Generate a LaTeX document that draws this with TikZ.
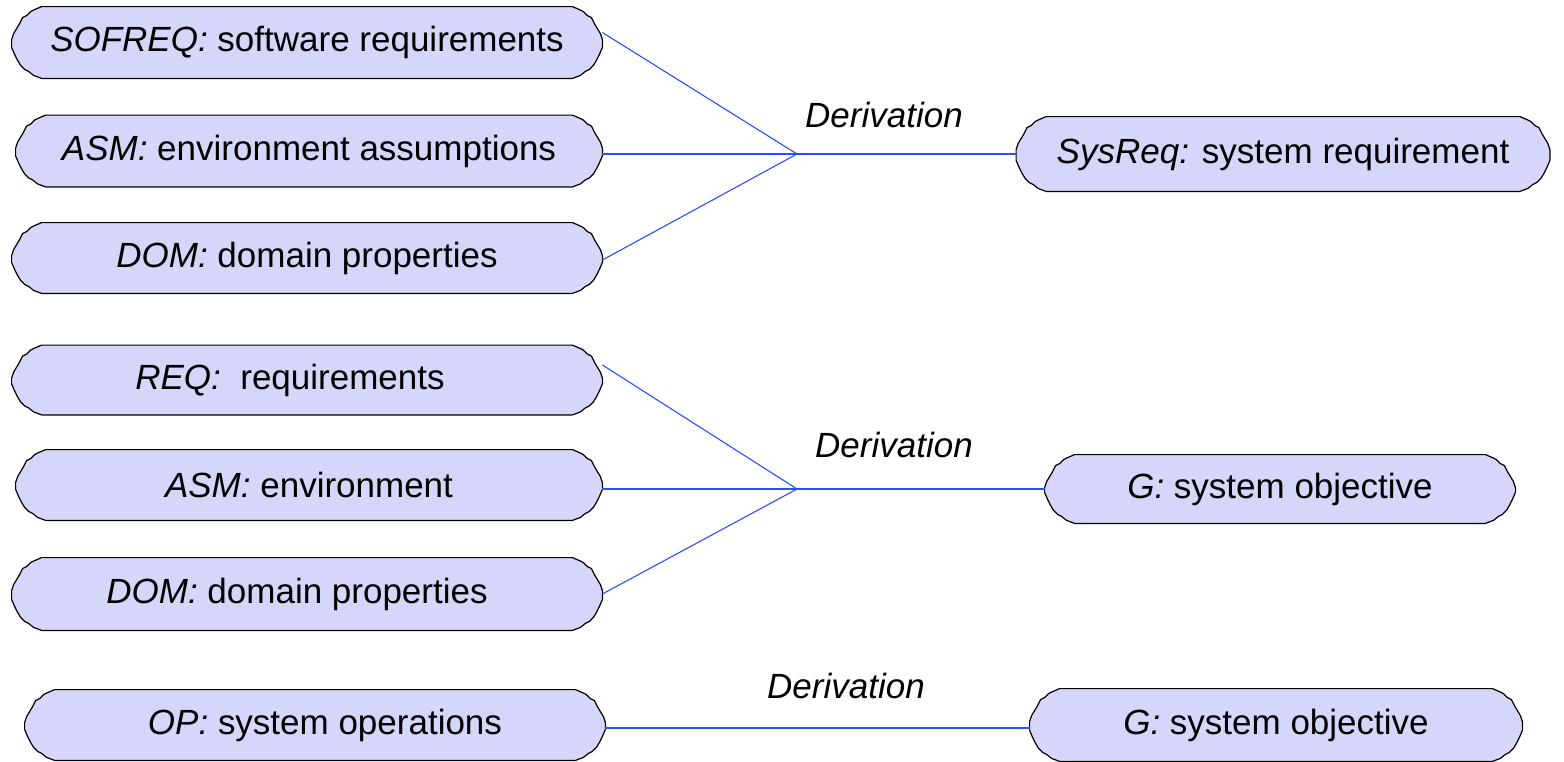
\documentclass[tikz,border=0pt]{standalone}
\usepackage{fontspec}
\setmainfont{Liberation Sans}
\usetikzlibrary{backgrounds,calc}
\definecolor{boxfill}{RGB}{214,214,250}
\definecolor{linkblue}{RGB}{40,80,255}
\tikzset{
  capbox/.style={inner sep=0pt, font=\fontsize{17.5}{21}\selectfont},
  derivlabel/.style={inner sep=0pt, font=\fontsize{17.5}{21}\selectfont\itshape},
  link/.style={draw=linkblue, line width=0.55pt},
  outline/.style={fill=boxfill, draw=black, line width=0.6pt, line join=round},
}
% Faceted, slightly irregular end caps drawn behind a named box node
\newcommand\capoutline[1]{%
  \begin{pgfonlayer}{background}
  \path[outline]
    ([shift={(30,0)}]#1.north west) -- ([shift={(-30,0)}]#1.north east)
    -- ([shift={(-23,3)}]#1.north east) -- ([shift={(-19,5)}]#1.north east)
    -- ([shift={(-15,9)}]#1.north east) -- ([shift={(-11,11)}]#1.north east)
    -- ([shift={(-8,17)}]#1.north east) -- ([shift={(-5,22)}]#1.north east)
    -- ([shift={(-2,27)}]#1.north east) -- ([shift={(0,33)}]#1.north east)
    -- ([shift={(0,-31)}]#1.south east) -- ([shift={(-3,-24)}]#1.south east)
    -- ([shift={(-6,-18)}]#1.south east) -- ([shift={(-9,-13)}]#1.south east)
    -- ([shift={(-13,-9)}]#1.south east) -- ([shift={(-17,-7)}]#1.south east)
    -- ([shift={(-22,-3)}]#1.south east) -- ([shift={(-30,0)}]#1.south east)
    -- ([shift={(30,0)}]#1.south west) -- ([shift={(22,-3)}]#1.south west)
    -- ([shift={(17,-7)}]#1.south west) -- ([shift={(13,-9)}]#1.south west)
    -- ([shift={(9,-13)}]#1.south west) -- ([shift={(6,-18)}]#1.south west)
    -- ([shift={(3,-24)}]#1.south west) -- ([shift={(0,-31)}]#1.south west)
    -- ([shift={(0,33)}]#1.north west) -- ([shift={(2,27)}]#1.north west)
    -- ([shift={(5,22)}]#1.north west) -- ([shift={(8,17)}]#1.north west)
    -- ([shift={(11,11)}]#1.north west) -- ([shift={(15,9)}]#1.north west)
    -- ([shift={(19,5)}]#1.north west) -- ([shift={(23,3)}]#1.north west)
    -- cycle;
  \end{pgfonlayer}}
\begin{document}
\begin{tikzpicture}[x=0.5pt, y=-0.5pt]
  \useasboundingbox (0,0) rectangle (1564,761);

  % first derivation
  \node[capbox, minimum width=295pt, minimum height=35.5pt] (sofreq) at (307,42.5)
    {\textit{SOFREQ:} software requirements};
  \node[capbox, minimum width=293pt, minimum height=35.5pt] (asmA) at (309,151)
    {\textit{ASM:} environment assumptions};
  \node[capbox, minimum width=295pt, minimum height=35pt] (domA) at (307,258)
    {\textit{DOM:} domain properties};
  \node[capbox, minimum width=266.5pt, minimum height=37pt] (sysreq) at (1283,154)
    {\textit{SysReq:} system requirement};
  \coordinate (jA) at (797,154);
  \node[derivlabel] (dA) at (884,115) {Derivation};

  % second derivation
  \node[capbox, minimum width=295pt, minimum height=34.5pt] (req) at (307,380)
    {\textit{REQ:}\ \ requirements\hspace*{17pt}};
  \node[capbox, minimum width=293pt, minimum height=35pt] (asmB) at (309,485)
    {\textit{ASM:} environment};
  \node[capbox, minimum width=295pt, minimum height=36pt] (domB) at (307,594)
    {\textit{DOM:} domain properties\hspace*{10pt}};
  \node[capbox, minimum width=235pt, minimum height=34pt] (goalA) at (1280,489)
    {\textit{G:} system objective};
  \coordinate (jB) at (797,489);
  \node[derivlabel] (dB) at (894,445) {Derivation};

  % third derivation
  \node[capbox, minimum width=290pt, minimum height=35pt] (op) at (315,725)
    {\hspace*{10pt}\textit{OP:} system operations};
  \node[capbox, minimum width=246pt, minimum height=36pt] (goalB) at (1276,725)
    {\textit{G:} system objective};
  \node[derivlabel] (dC) at (846,686) {Derivation};

  \foreach \b in {sofreq,asmA,domA,sysreq,req,asmB,domB,goalA,op,goalB}
    {\capoutline{\b}}

  % connectors
  \draw[link] ([yshift=5pt]sofreq.east) -- (jA);
  \draw[link] (jA -| asmA.east) -- (jA);
  \draw[link] ([yshift=-1pt]domA.east) -- (jA);
  \draw[link] (jA) -- (sysreq.west);

  \draw[link] ([yshift=7.5pt]req.east) -- (jB);
  \draw[link] (jB -| asmB.east) -- (jB);
  \draw[link] (domB.east) -- (jB);
  \draw[link] (jB) -- (goalA.west);

  \draw[link] ([yshift=-1.5pt]op.east) -- ([yshift=-1.5pt]goalB.west);
\end{tikzpicture}
\end{document}
